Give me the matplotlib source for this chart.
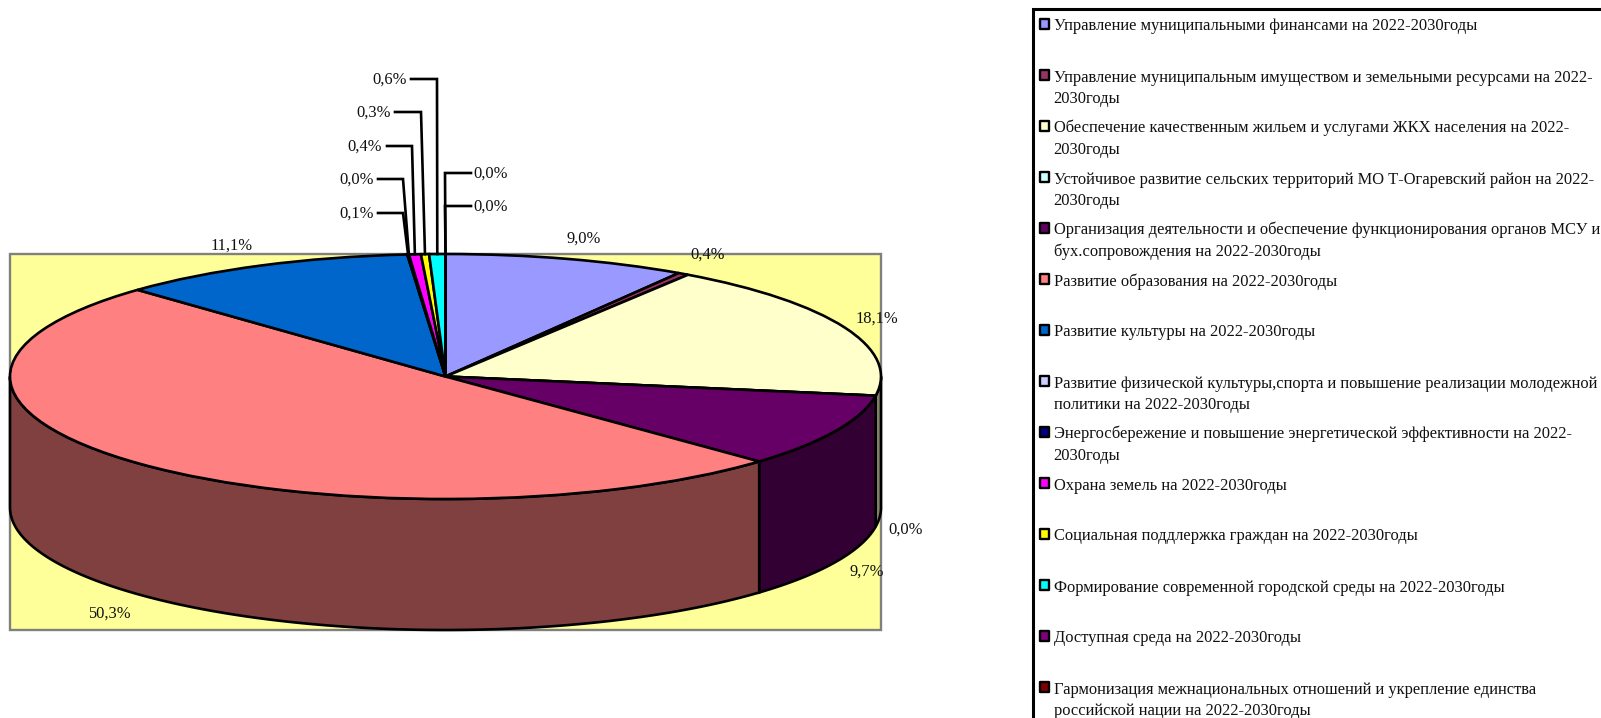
import numpy as np
import matplotlib
matplotlib.use('Agg')
import matplotlib.pyplot as plt
from matplotlib.patches import Wedge, Rectangle, Polygon
from matplotlib.transforms import Affine2D

plt.rcParams['font.family'] = ['Liberation Serif', 'DejaVu Serif']

names = [
    'Управление муниципальными финансами на 2022-2030годы',
    'Управление муниципальным имуществом и земельными ресурсами на 2022-\n2030годы',
    'Обеспечение качественным жильем и услугами ЖКХ населения на 2022-\n2030годы',
    'Устойчивое развитие сельских территорий МО Т-Огаревский район на 2022-\n2030годы',
    'Организация деятельности и обеспечение функционирования органов МСУ и\nбух.сопровождения на 2022-2030годы',
    'Развитие образования на 2022-2030годы',
    'Развитие культуры на 2022-2030годы',
    'Развитие физической культуры,спорта и повышение реализации молодежной\nполитики на 2022-2030годы',
    'Энергосбережение и повышение энергетической эффективности на 2022-\n2030годы',
    'Охрана земель на 2022-2030годы',
    'Социальная поддлержка граждан на 2022-2030годы',
    'Формирование современной городской среды на 2022-2030годы',
    'Доступная среда на 2022-2030годы',
    'Гармонизация межнациональных отношений и укрепление единства\nроссийской нации на 2022-2030годы',
]
values = [9.0, 0.4, 18.1, 0.0, 9.7, 50.3, 11.1, 0.06, 0.0, 0.44, 0.3, 0.6, 0.0, 0.0]
colors = ['#9999FF', '#993366', '#FFFFCC', '#CCFFFF', '#660066', '#FF8080', '#0066CC',
          '#CCCCFF', '#000080', '#FF00FF', '#FFFF00', '#00FFFF', '#800080', '#800000']
side_colors = ['#4D4D80', '#4D1A33', '#808066', '#668080', '#330033', '#804040', '#003366',
               '#666680', '#000040', '#800080', '#808000', '#008080', '#400040', '#400000']

# pie geometry, in pixels of the picture
cx, cy, rx, ry, depth = 445.5, 376.5, 435.5, 122.5, 131
LW = 1.9
FS = 11.88
TEXT = '#111111'

fig = plt.figure(figsize=(16.01, 7.18), dpi=100)
ax = fig.add_axes([0, 0, 1, 1])
ax.set_xlim(0, 1601)
ax.set_ylim(718, 0)
ax.axis('off')

ax.add_patch(Rectangle((10, 254), 871, 375.5, fc='#FFFF99', ec='#808080', lw=1.7, zorder=1))

edges = np.concatenate([[0], np.cumsum(values)]) / sum(values) * 360
unit = Affine2D().scale(rx, ry).translate(cx, cy) + ax.transData


def point(phi, drop=0):
    a = np.radians(phi)
    return cx + rx * np.sin(a), cy - ry * np.cos(a) + drop


def pct(v):
    return f'{v:.1f}'.replace('.', ',') + '%'


# walls of the front half
for i in range(len(values)):
    a, b = max(edges[i], 90), min(edges[i + 1], 270)
    if b <= a:
        continue
    phis = np.linspace(a, b, 120)
    top = [point(p) for p in phis]
    low = [point(p, depth) for p in phis[::-1]]
    ax.add_patch(Polygon(top + low, closed=True, fc=side_colors[i], ec='black', lw=LW, zorder=2))

# top face
for i in range(len(values)):
    ax.add_patch(Wedge((0, 0), 1, edges[i] - 90, edges[i + 1] - 90, fc=colors[i], ec='black',
                       lw=LW, transform=unit, zorder=3))

# labels placed next to the pie
plain_pos = {0: (584, 238), 1: (708, 254), 2: (877, 318), 3: (906, 529), 4: (867, 571),
             5: (109, 613), 6: (232, 245)}
for i, (x, y) in plain_pos.items():
    ax.text(x, y + 4.5, pct(values[i]), ha='center', va='baseline', fontsize=FS, color=TEXT, zorder=5)

# labels with leader lines: index, text edge, y, elbow x, line start x
leader_pos = [(7, 374, 213, 403, 378), (8, 374, 179, 403, 378), (9, 382, 146, 412, 387),
              (10, 391, 112, 421, 395), (11, 407, 79, 437, 411),
              (12, 473, 206, 445, 471), (13, 473, 173, 445, 471)]
for i, tx, y, ex, sx in leader_pos:
    mid = (edges[i] + edges[i + 1]) / 2
    ax.plot([sx, ex, point(mid)[0]], [y, y, point(mid)[1]], color='black', lw=LW, zorder=4,
            solid_joinstyle='miter')
    ax.text(tx, y + 4.5, pct(values[i]), ha='right' if tx < 445 else 'left', va='baseline',
            fontsize=FS, color=TEXT, zorder=5)

# legend box runs off the picture on the right and at the bottom
ax.add_patch(Rectangle((1033, 9), 700, 800, fc='white', ec='black', lw=2.2, zorder=1))
for i, name in enumerate(names):
    y = 24 + i * 51
    ax.add_patch(Rectangle((1040, y - 5), 9, 10, fc=colors[i], ec='black', lw=1.7, joinstyle='round',
                           zorder=3))
    for j, line in enumerate(name.split('\n')):
        ax.text(1053.5, y + 6.5 + j * 21.5, line, ha='left', va='baseline', fontsize=FS, color=TEXT,
                zorder=5)

fig.savefig('out.png', dpi=100)
